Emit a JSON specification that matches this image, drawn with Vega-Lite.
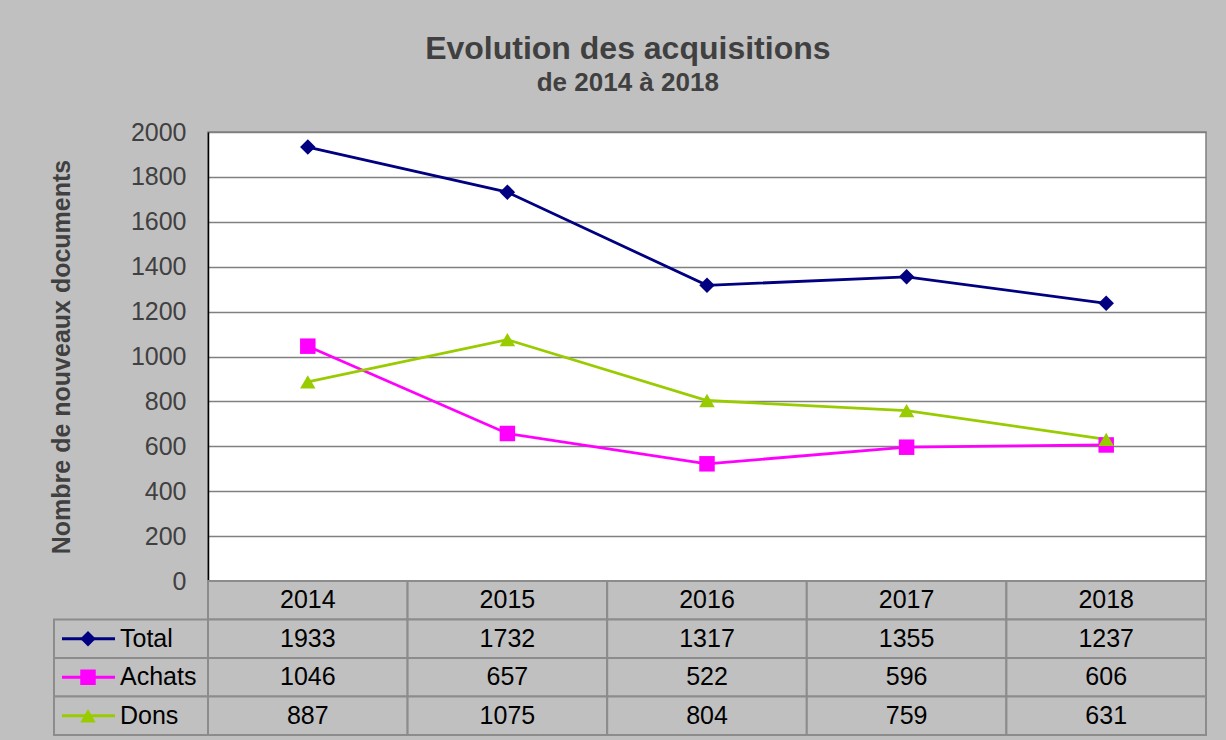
{
  "$schema": "https://vega.github.io/schema/vega-lite/v6.json",
  "background": "#c0c0c0",
  "padding": {"left": 48, "top": 33, "right": 19, "bottom": 5},
  "config": {
    "font": "Liberation Sans",
    "view": {"stroke": null},
    "concat": {"spacing": 0}
  },
  "title": {
    "text": "Evolution des acquisitions",
    "subtitle": "de 2014 à 2018",
    "fontSize": 32,
    "fontWeight": "bold",
    "color": "#404040",
    "subtitleFontSize": 26,
    "subtitleFontWeight": "bold",
    "subtitleColor": "#404040",
    "subtitlePadding": 4,
    "anchor": "middle",
    "offset": 22
  },
  "datasets": {
    "series": [
      {"annee": "2014", "serie": "Total", "valeur": 1933},
      {"annee": "2015", "serie": "Total", "valeur": 1732},
      {"annee": "2016", "serie": "Total", "valeur": 1317},
      {"annee": "2017", "serie": "Total", "valeur": 1355},
      {"annee": "2018", "serie": "Total", "valeur": 1237},
      {"annee": "2014", "serie": "Achats", "valeur": 1046},
      {"annee": "2015", "serie": "Achats", "valeur": 657},
      {"annee": "2016", "serie": "Achats", "valeur": 522},
      {"annee": "2017", "serie": "Achats", "valeur": 596},
      {"annee": "2018", "serie": "Achats", "valeur": 606},
      {"annee": "2014", "serie": "Dons", "valeur": 887},
      {"annee": "2015", "serie": "Dons", "valeur": 1075},
      {"annee": "2016", "serie": "Dons", "valeur": 804},
      {"annee": "2017", "serie": "Dons", "valeur": 759},
      {"annee": "2018", "serie": "Dons", "valeur": 631}
    ],
    "annees": [
      {"annee": "2014"}, {"annee": "2015"}, {"annee": "2016"}, {"annee": "2017"}, {"annee": "2018"}
    ],
    "legende": [
      {"serie": "Total"}, {"serie": "Achats"}, {"serie": "Dons"}
    ]
  },
  "columns": 2,
  "align": "each",
  "bounds": "flush",
  "spacing": 0,
  "concat": [
    {
      "width": 154,
      "height": 449,
      "data": {"values": [{}]},
      "mark": {"type": "text"},
      "encoding": {"text": {"value": ""}}
    },
    {
      "width": 998,
      "height": 449,
      "data": {"name": "series"},
      "view": {"fill": "white", "stroke": "#808080", "strokeWidth": 1.5},
      "encoding": {
        "x": {"field": "annee", "type": "ordinal", "axis": null, "scale": {"type": "point", "padding": 0.5}},
        "y": {
          "field": "valeur", "type": "quantitative",
          "scale": {"domain": [0, 2000], "nice": false},
          "axis": {
            "values": [0, 200, 400, 600, 800, 1000, 1200, 1400, 1600, 1800, 2000],
            "format": "d",
            "title": "Nombre de nouveaux documents",
            "titleFontSize": 25, "titleFontWeight": "bold", "titleColor": "#404040",
            "titlePadding": 56,
            "labelFontSize": 25, "labelColor": "#404040", "labelPadding": 22,
            "ticks": false,
            "domainColor": "#000000", "domainWidth": 1.5,
            "grid": true, "gridColor": "#808080", "gridWidth": 1.5
          }
        },
        "color": {
          "field": "serie", "type": "nominal",
          "scale": {"domain": ["Total", "Achats", "Dons"], "range": ["#000080", "#ff00ff", "#99cc00"]},
          "legend": null
        }
      },
      "layer": [
        {"mark": {"type": "line", "strokeWidth": 2.8}},
        {
          "mark": {"type": "point", "filled": true, "opacity": 1},
          "encoding": {
            "shape": {
              "field": "serie", "type": "nominal",
              "scale": {"domain": ["Total", "Achats", "Dons"], "range": ["diamond", "square", "triangle-up"]},
              "legend": null
            },
            "size": {"value": 240}
          }
        }
      ]
    },
    {
      "width": 154,
      "height": 154,
      "encoding": {
        "y": {"field": "serie", "type": "nominal", "axis": null,
              "scale": {"domain": ["Année", "Total", "Achats", "Dons"], "paddingInner": 0, "paddingOuter": 0}}
      },
      "layer": [
        {
          "data": {"name": "legende"},
          "mark": {"type": "rect", "fill": "#c0c0c0", "stroke": "#8c8c8c", "strokeWidth": 2}
        },
        {
          "data": {"name": "legende"},
          "mark": {"type": "rule", "strokeWidth": 2.8},
          "encoding": {
            "x": {"datum": 8, "type": "quantitative", "scale": {"domain": [0, 154], "nice": false, "zero": false}, "axis": null},
            "x2": {"datum": 61},
            "color": {"field": "serie", "type": "nominal", "legend": null}
          }
        },
        {
          "data": {"name": "legende"},
          "mark": {"type": "point", "filled": true, "opacity": 1, "size": 240},
          "encoding": {
            "x": {"datum": 34, "type": "quantitative"},
            "color": {"field": "serie", "type": "nominal", "legend": null},
            "shape": {"field": "serie", "type": "nominal", "legend": null}
          }
        },
        {
          "data": {"name": "legende"},
          "mark": {"type": "text", "align": "left", "fontSize": 25, "color": "#000000"},
          "encoding": {
            "x": {"datum": 66, "type": "quantitative"},
            "text": {"field": "serie"}
          }
        }
      ]
    },
    {
      "width": 998,
      "height": 154,
      "encoding": {
        "x": {"field": "annee", "type": "ordinal", "axis": null, "scale": {"type": "band", "paddingInner": 0, "paddingOuter": 0}}
      },
      "layer": [
        {
          "data": {"name": "annees"},
          "mark": {"type": "rect", "fill": "#c0c0c0", "stroke": "#8c8c8c", "strokeWidth": 2},
          "encoding": {
            "y": {"datum": "Année", "type": "nominal", "axis": null,
                  "scale": {"domain": ["Année", "Total", "Achats", "Dons"], "paddingInner": 0, "paddingOuter": 0}}
          }
        },
        {
          "data": {"name": "series"},
          "mark": {"type": "rect", "fill": "#c0c0c0", "stroke": "#8c8c8c", "strokeWidth": 2},
          "encoding": {"y": {"field": "serie", "type": "nominal"}}
        },
        {
          "data": {"name": "annees"},
          "mark": {"type": "text", "fontSize": 25, "color": "#000000"},
          "encoding": {"y": {"datum": "Année", "type": "nominal"}, "text": {"field": "annee"}}
        },
        {
          "data": {"name": "series"},
          "mark": {"type": "text", "fontSize": 25, "color": "#000000"},
          "encoding": {"y": {"field": "serie", "type": "nominal"}, "text": {"field": "valeur", "type": "quantitative", "format": "d"}}
        }
      ]
    }
  ]
}
